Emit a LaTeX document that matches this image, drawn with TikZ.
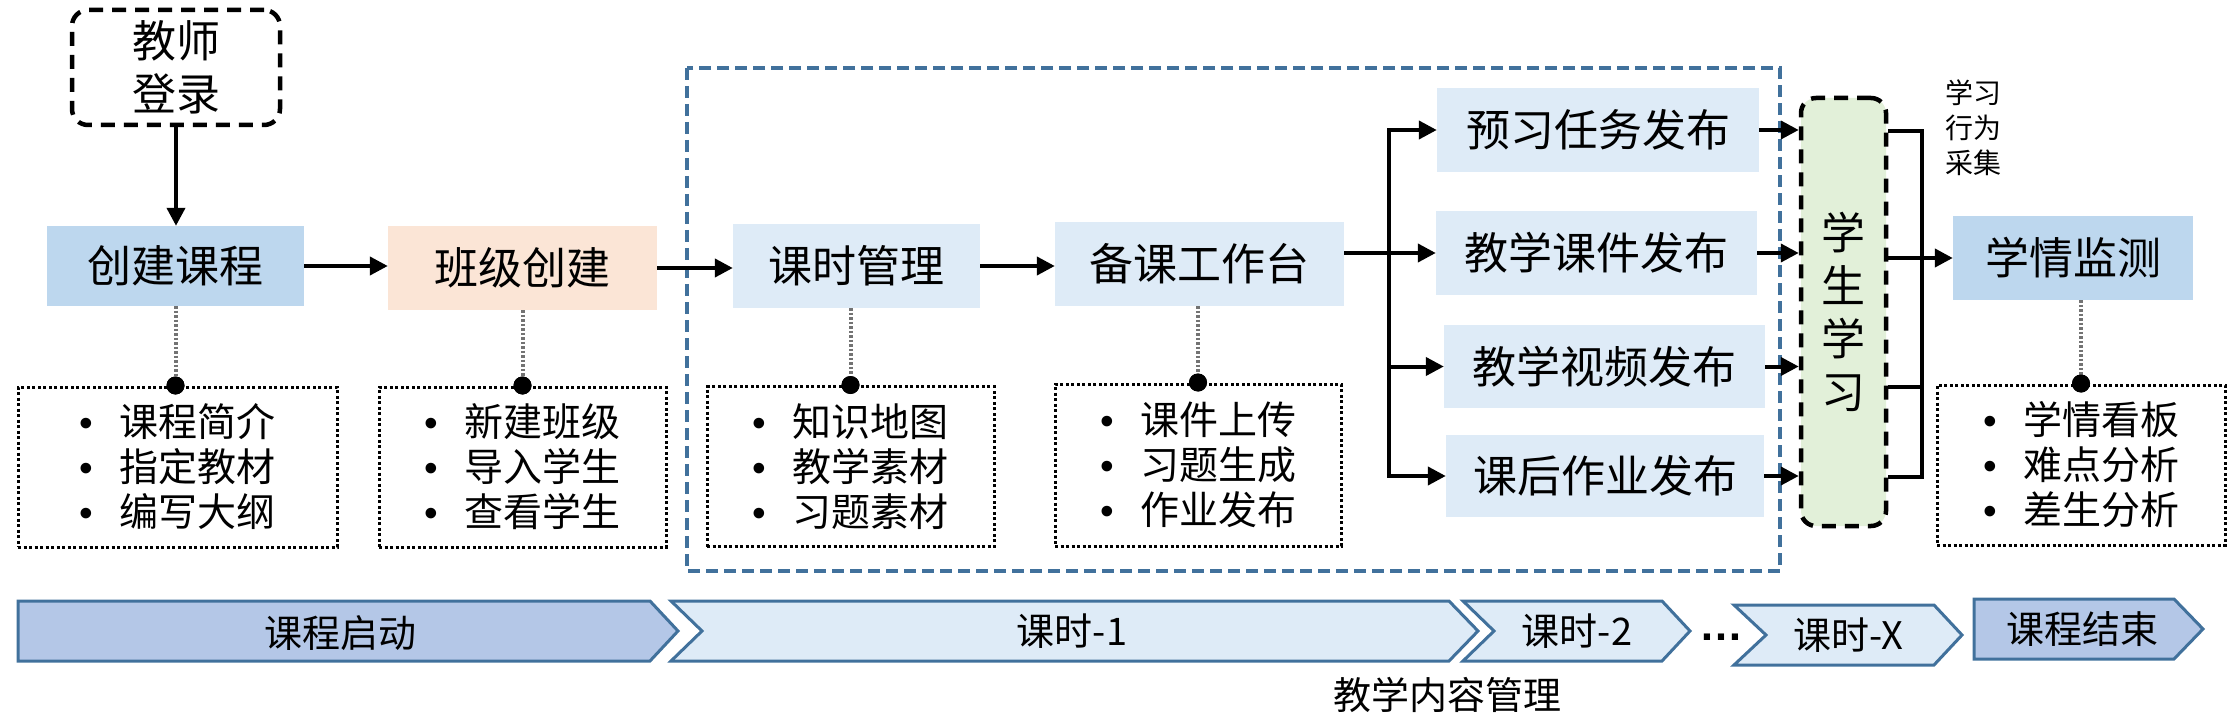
\documentclass[tikz,border=0pt]{standalone}
\usepackage{fontspec}
\setmainfont{Noto Sans CJK SC}
\newfontfamily\latf{Liberation Sans}
\usetikzlibrary{arrows.meta}
\definecolor{bluefill}{HTML}{BDD7EE}
\definecolor{peach}{HTML}{FBE5D6}
\definecolor{paleblue}{HTML}{DEEBF7}
\definecolor{palegreen}{HTML}{E2F0D9}
\definecolor{steel}{RGB}{65,113,156}
\definecolor{chevdark}{HTML}{B4C7E7}
\newcommand\blt{\makebox[40pt][l]{\latf •}}
\begin{document}
\begin{tikzpicture}[x=1pt,y=-1pt,
  mainbox/.style={inner sep=0pt, font=\fontsize{44}{50}\selectfont},
  dbox/.style={draw=black, line width=4.5pt, dash pattern=on 14pt off 9pt, rounded corners=16pt, inner sep=0pt, align=center, font=\fontsize{44}{53}\selectfont},
  listbox/.style={draw=black, line width=3pt, dash pattern=on 3pt off 2.5pt, inner sep=0pt, align=left, font=\fontsize{39}{45}\selectfont},
  dotn/.style={circle, fill=black, inner sep=0pt, minimum size=18pt},
  conn/.style={draw=black!55, line width=4pt, dash pattern=on 2.5pt off 2pt},
  ln/.style={draw=black, line width=4pt},
  arr/.style={draw=black, line width=4pt, -{Triangle[length=18pt,width=18pt]}},
  chev/.style={draw=steel, line width=3pt, line join=miter},
  chevtext/.style={inner sep=0pt, font=\fontsize{38}{44}\selectfont},
  bluedash/.style={draw=steel, line width=4pt, dash pattern=on 12pt off 6pt}
]
\useasboundingbox (0,0) rectangle (2237,727);

% group frame
\draw[bluedash] (687,68) rectangle (1780,571);

% main row
\node[dbox, minimum width=208pt, minimum height=115pt] (t0) at (176,67.5) {教师\\登录};
\node[mainbox, fill=bluefill, minimum width=257pt, minimum height=80pt] (c1) at (175.5,266) {创建课程};
\node[mainbox, fill=peach, minimum width=269pt, minimum height=84pt] (c2) at (522.5,268) {班级创建};
\node[mainbox, fill=paleblue, minimum width=247pt, minimum height=84pt] (c3) at (856.5,266) {课时管理};
\node[mainbox, fill=paleblue, minimum width=289pt, minimum height=84pt] (c4) at (1199.5,264) {备课工作台};

\node[mainbox, fill=paleblue, minimum width=322pt, minimum height=84pt] (p1) at (1598,130) {预习任务发布};
\node[mainbox, fill=paleblue, minimum width=321pt, minimum height=84pt] (p2) at (1596.5,253) {教学课件发布};
\node[mainbox, fill=paleblue, minimum width=321pt, minimum height=83pt] (p3) at (1604.5,366.5) {教学视频发布};
\node[mainbox, fill=paleblue, minimum width=318pt, minimum height=82pt] (p4) at (1605,476) {课后作业发布};

\node[dbox, fill=palegreen, minimum width=85pt, minimum height=428pt, rounded corners=15pt] (ss) at (1843.5,312) {学\\生\\学\\习};
\node[mainbox, fill=bluefill, minimum width=240pt, minimum height=84pt] (sm) at (2073,258) {学情监测};
\node[inner sep=0pt, align=left, anchor=west, font=\fontsize{28}{35}\selectfont] (lb) at (1945,128) {学习\\行为\\采集};

% list boxes
\node[listbox, minimum width=319pt, minimum height=160pt] (l1) at (177.5,467) {\blt 课程简介\\\blt 指定教材\\\blt 编写大纲};
\node[listbox, minimum width=287pt, minimum height=160pt] (l2) at (522.5,467) {\blt 新建班级\\\blt 导入学生\\\blt 查看学生};
\node[listbox, minimum width=287pt, minimum height=160pt] (l3) at (850.5,466.5) {\blt 知识地图\\\blt 教学素材\\\blt 习题素材};
\node[listbox, minimum width=286pt, minimum height=162pt] (l4) at (1198,465) {\blt 课件上传\\\blt 习题生成\\\blt 作业发布};
\node[listbox, minimum width=288pt, minimum height=160pt] (l5) at (2081,465) {\blt 学情看板\\\blt 难点分析\\\blt 差生分析};

% dots
\node[dotn] (d1) at (l1.north -| c1.south) {};
\node[dotn] (d2) at (l2.north -| c2.south) {};
\node[dotn] (d3) at (l3.north) {};
\node[dotn] (d4) at (l4.north) {};
\node[dotn] (d5) at (l5.north) {};
\draw[conn] (c1.south) -- (d1.center);
\draw[conn] (c2.south) -- (d2.center);
\draw[conn] (c3.south -| d3) -- (d3.center);
\draw[conn] (c4.south -| d4) -- (d4.center);
\draw[conn] (sm.south -| d5) -- (d5.center);
\fill (d1) circle[radius=9pt];
\fill (d2) circle[radius=9pt];
\fill (d3) circle[radius=9pt];
\fill (d4) circle[radius=9pt];
\fill (d5) circle[radius=9pt];

% connectors
\draw[arr] (t0.south) -- (t0.south |- c1.north);
\draw[arr] (c1.east) -- (c1.east -| c2.west);
\draw[arr] (c2.east) -- (c2.east -| c3.west);
\draw[arr] (c3.east) -- (c3.east -| c4.west);

\coordinate (bx) at (1389,257);
\draw[arr] (c4.east |- p2.west) -- (p2.west);
\draw[arr] (bx |- p2.west) -- (bx |- p1.west) -- (p1.west);
\draw[arr] (bx |- p2.west) -- (bx |- p4.west) -- (p4.west);
\draw[arr] (bx |- p3.west) -- (p3.west);

\draw[arr] (p1.east) -- (p1.east -| ss.west);
\draw[arr] (p2.east) -- (p2.east -| ss.west);
\draw[arr] (p3.east) -- (p3.east -| ss.west);
\draw[arr] (p4.east) -- (p4.east -| ss.west);

\coordinate (m1) at (1922,131);
\coordinate (m3) at (1922,387);
\coordinate (m4) at (1922,477);
\draw[ln, line join=miter] (ss.east |- m1) -- (m1) -- (m4) -- (ss.east |- m4);
\draw[ln] (ss.east |- m3) -- (m3);
\draw[arr] (ss.east |- sm.west) -- (sm.west);

% timeline chevrons
\draw[chev, fill=chevdark] (18,601) -- (650,601) -- (678,631) -- (650,661) -- (18,661) -- cycle;
\draw[chev, fill=paleblue] (671,601) -- (1449,601) -- (1478,631) -- (1449,661) -- (671,661) -- (702,631) -- cycle;
\draw[chev, fill=paleblue] (1463,601) -- (1662,601) -- (1690,631) -- (1662,661) -- (1463,661) -- (1494,631) -- cycle;
\draw[chev, fill=paleblue] (1734,605) -- (1934,605) -- (1962,635) -- (1934,665) -- (1734,665) -- (1766,635) -- cycle;
\draw[chev, fill=chevdark] (1974,599) -- (2174,599) -- (2203,629) -- (2174,659) -- (1974,659) -- cycle;

\node[chevtext] (k0) at (340,633) {课程启动};
\node[chevtext] (k1) at (1072,631) {课时-1};
\node[chevtext] (k2) at (1577,631) {课时-2};
\node[inner sep=0pt, anchor=base, font=\latf\bfseries\fontsize{44}{50}\selectfont] (el) at (1721,640) {…};
\node[chevtext] (kx) at (1848,635) {课时-X};
\node[chevtext] (ke) at (2082,629) {课程结束};
\node[chevtext] (gl) at (1447,695) {教学内容管理};
\end{tikzpicture}
\end{document}
